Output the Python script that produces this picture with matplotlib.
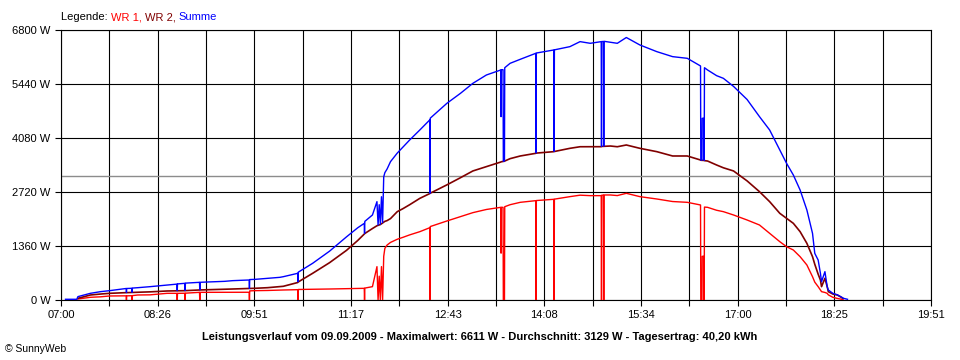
import numpy as np
import matplotlib
matplotlib.use("Agg")
import matplotlib.pyplot as plt

# time of day and power values (W)
times = [
    "07:04", "07:14", "07:15", "07:26", "07:35", "07:43", "07:52",
    "07:57:45", "07:58", "07:58:15", "08:02:45", "08:03", "08:03:15",
    "08:08", "08:19", "08:34", "08:42:45", "08:43", "08:43:15",
    "08:49:45", "08:50", "08:50:15", "09:02:45", "09:03", "09:03:15",
    "09:25", "09:32", "09:46:45", "09:47", "09:47:15", "09:52",
    "10:03", "10:14", "10:17", "10:29:45", "10:30", "10:30:15",
    "10:43", "10:58", "11:13", "11:23", "11:28:45", "11:29", "11:29:15",
    "11:36", "11:40", "11:41", "11:42", "11:43", "11:44", "11:45",
    "11:46", "11:47", "11:49", "11:52", "11:58", "12:03", "12:09", "12:18",
    "12:26:45", "12:27", "12:27:15", "12:42", "12:54", "13:05", "13:17",
    "13:29:45", "13:30", "13:30:15", "13:31:45", "13:32", "13:33", "13:33:15",
    "13:38", "13:47", "14:00:45", "14:01", "14:01:15",
    "14:16:45", "14:17", "14:17:15", "14:31", "14:40", "14:49",
    "14:58:45", "14:59", "14:59:15", "15:00:45", "15:01", "15:01:15",
    "15:07", "15:13", "15:21", "15:33", "15:48", "16:02", "16:15",
    "16:26:45", "16:27", "16:28", "16:28:15", "16:29:45", "16:30", "16:30:15",
    "16:33", "16:41", "16:47", "16:56", "17:08", "17:19", "17:28", "17:37",
    "17:43", "17:49", "17:55", "18:01", "18:06", "18:08", "18:11", "18:13",
    "18:14", "18:17", "18:19", "18:20", "18:24", "18:28", "18:32", "18:33",
    "18:37",
]
wr1 = [
    np.nan, np.nan, 25, 68, 80, 101, 105,
    105, 0, 105, 108, 0, 110,
    126, 130, 168, 168, 0, 168,
    170, 0, 172, 193, 0, 193,
    193, 195, 195, 0, 230, 235,
    240, 250, 252, 260, 0, 265,
    270, 277, 285, 290, 294, 0, 300,
    336, 840, 0, 600, 0, 840, 0,
    1100, 1300, 1385, 1450, 1530, 1578, 1640, 1721,
    1820, 0, 1850, 1990, 2100, 2200, 2280,
    2334, 1180, 2334, 2334, 0, 0, 2350,
    2400, 2460, 2502, 0, 2505,
    2536, 0, 2540, 2603, 2640, 2628,
    2628, 0, 2640, 2640, 0, 2645,
    2645, 2630, 2687, 2603, 2544, 2480, 2460,
    2393, 0, 0, 1100, 1100, 0, 2340,
    2334, 2260, 2225, 2141, 2015, 1889, 1679, 1469,
    1343, 1259, 1091, 882, 587, 450, 336, 250,
    210, 190, 168, 130, 68, 40, 18, 10,
    np.nan,
]
wr2 = [
    np.nan, np.nan, 42, 126, 150, 168, 180,
    185, 185, 185, 190, 190, 192,
    195, 205, 227, 230, 230, 231,
    235, 235, 236, 252, 252, 253,
    270, 277, 290, 292, 293, 295,
    310, 336, 345, 440, 450, 455,
    672, 940, 1250, 1500, 1660, 1670, 1675,
    1800, 1870, 1880, 1890, 1900, 1920, 1940,
    1960, 1980, 2000, 2050, 2225, 2300, 2400, 2560,
    2680, 2687, 2690, 2900, 3080, 3250, 3358,
    3475, 3480, 3482, 3488, 3490, 3495, 3500,
    3560, 3627, 3694, 3700, 3700,
    3736, 3740, 3740, 3820, 3860, 3861,
    3861, 3865, 3868, 3870, 3870, 3872,
    3878, 3860, 3904, 3820, 3736, 3627, 3627,
    3526, 3520, 3520, 3518, 3516, 3515, 3510,
    3500, 3400, 3330, 3250, 3000, 2728, 2477, 2183,
    2057, 1931, 1721, 1427, 1091, 900, 650, 504,
    336, 546, 336, 210, 150, 126, 60, 42,
    np.nan,
]
summe = [
    18, 18, 85, 168, 210, 235, 268,
    290, 190, 290, 295, 195, 300,
    310, 336, 378, 400, 235, 405,
    420, 240, 425, 445, 255, 446,
    470, 487, 504, 294, 515, 520,
    545, 571, 587, 672, 460, 700,
    924, 1230, 1590, 1820, 1930, 1680, 1980,
    2141, 2477, 1890, 2400, 1910, 2600, 1950,
    3100, 3207, 3300, 3484, 3700, 3850, 4030, 4282,
    4534, 2690, 4580, 4954, 5205, 5457, 5667,
    5793, 4618, 5800, 5800, 3495, 3500, 5850,
    5961, 6062, 6213, 3705, 6220,
    6297, 3745, 6300, 6381, 6507, 6465,
    6507, 3870, 6510, 6510, 3875, 6515,
    6490, 6465, 6611, 6423, 6255, 6129, 6087,
    5894, 3525, 3522, 4576, 4576, 3518, 5850,
    5793, 5650, 5583, 5380, 5050, 4618, 4282, 3778,
    3442, 3148, 2770, 2267, 1679, 1175, 1007, 672,
    462, 714, 336, 252, 168, 130, 68, 45,
    18,
]
average = 3129

y_ticks = [0, 1360, 2720, 4080, 5440, 6800]
x_labels = ["07:00", "08:26", "09:51", "11:17", "12:43",
            "14:08", "15:34", "17:00", "18:25", "19:51"]


def to_minutes(t):
    p = [int(v) for v in t.split(":")]
    return p[0] * 60 + p[1] + (p[2] / 60 if len(p) > 2 else 0)


minutes = [to_minutes(t) for t in times]

fig = plt.figure(figsize=(9.6, 3.6), dpi=100)
ax = fig.add_axes([61 / 960, 60 / 360, 870 / 960, 270 / 360])

font = "Liberation Sans"

ax.plot(minutes, wr1, color="#ff0000", lw=1.0, zorder=3)
ax.plot(minutes, wr2, color="#800000", lw=1.2, zorder=4)
ax.plot(minutes, summe, color="#0000ff", lw=1.0, zorder=5)
ax.axhline(average, color="#8c8c8c", lw=1.0, zorder=2)

# x axis: 07:00 .. 19:51, labelled every second gridline
x_pos = np.linspace(420, 1191, 19)
ax.set_xlim(420, 1191)
ax.set_xticks(x_pos)
labels = []
for i in range(19):
    labels.append(x_labels[i // 2] if i % 2 == 0 else "")
ax.set_xticklabels(labels, fontfamily=font, fontsize=8)

ax.set_ylim(0, 6800)
ax.set_yticks(y_ticks)
ax.set_yticklabels([f"{v} W" for v in y_ticks], fontfamily=font, fontsize=8)

ax.tick_params(direction="out", length=4.5, width=0.8, color="black", pad=3)
ax.tick_params(axis="x", pad=3)
ax.grid(True, color="black", lw=0.8)
ax.set_axisbelow(True)
for sp in ax.spines.values():
    sp.set_color("black")
    sp.set_linewidth(0.8)

# legend line at the top
parts = [("Legende: ", "black"), ("WR 1, ", "#ff0000"),
         ("WR 2, ", "#800000"), ("Summe", "#0000ff")]
x = 61
renderer = fig.canvas.get_renderer()
for s, c in parts:
    t = fig.text(x / 960, 1 - 17 / 360, s, color=c, fontfamily=font,
                 fontsize=8, va="center", ha="left")
    x += t.get_window_extent(renderer).width

fig.text(0.5, 1 - 337 / 360,
         "Leistungsverlauf vom 09.09.2009 - Maximalwert: 6611 W - "
         "Durchschnitt: 3129 W - Tagesertrag: 40,20 kWh",
         fontfamily=font, fontsize=8, fontweight="bold", ha="center", va="center")
fig.text(5 / 960, 1 - 349 / 360, "\u00a9 SunnyWeb", fontfamily=font,
         fontsize=7.5, ha="left", va="center")

fig.savefig("out.png", dpi=100, facecolor="white")
